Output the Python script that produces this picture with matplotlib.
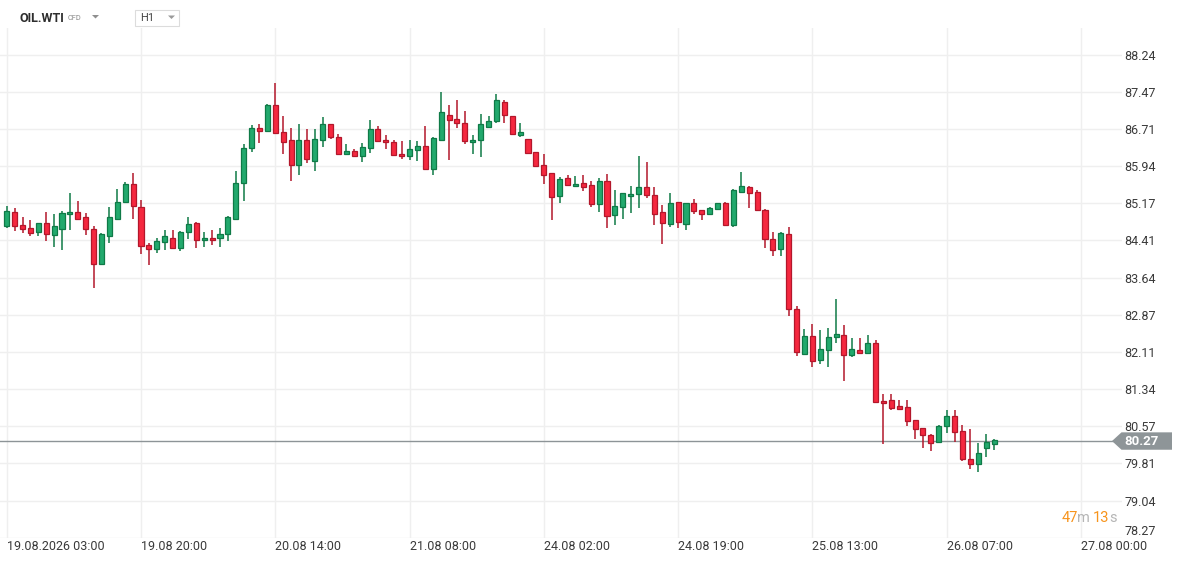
import numpy as np
import matplotlib
matplotlib.use('Agg')
import matplotlib.pyplot as plt
from matplotlib.patches import Polygon, Rectangle
from matplotlib.transforms import IdentityTransform

plt.rcParams['font.family'] = ['Roboto', 'DejaVu Sans']

# OIL.WTI H1 candles
opens = [84.71, 84.99, 84.72, 84.66, 84.58, 84.76, 84.52, 84.65, 84.95, 84.99,
         84.89, 84.64, 83.93, 84.49, 84.84, 85.20, 85.57, 85.09, 84.31, 84.23,
         84.37, 84.45, 84.25, 84.58, 84.77, 84.41, 84.45, 84.45, 84.54, 84.86,
         85.60, 86.32, 86.73, 86.67, 87.21, 86.65, 86.47, 85.97, 86.49, 86.04,
         86.47, 86.82, 86.55, 86.19, 86.26, 86.16, 86.32, 86.71, 86.49, 86.43,
         86.20, 86.16, 86.28, 86.35, 85.89, 86.49, 87.00, 86.92, 86.84, 86.43,
         86.47, 86.75, 86.88, 87.27, 86.98, 86.58, 86.51, 86.24, 85.97, 85.79,
         85.32, 85.69, 85.54, 85.60, 85.56, 85.15, 85.64, 84.93, 85.09, 85.32,
         85.36, 85.52, 85.34, 84.99, 84.74, 85.21, 84.74, 85.17, 85.03, 84.95,
         85.05, 85.17, 84.73, 85.40, 85.52, 85.40, 85.03, 84.43, 84.24, 84.54,
         83.00, 82.07, 82.44, 81.94, 82.15, 82.42, 82.46, 82.04, 82.15, 82.08,
         82.30, 81.10, 81.12, 81.00, 80.98, 80.71, 80.53, 80.39, 80.24, 80.59,
         80.78, 80.47, 79.89, 79.80, 80.12, 80.20]
highs = [85.12, 85.08, 84.89, 84.83, 84.77, 84.99, 84.95, 85.02, 85.39, 85.22,
         84.97, 84.70, 84.56, 85.10, 85.47, 85.61, 85.80, 85.24, 84.36, 84.45,
         84.62, 84.62, 84.60, 84.89, 84.79, 84.58, 84.62, 84.66, 84.91, 85.83,
         86.40, 86.78, 86.80, 87.22, 87.65, 86.97, 86.72, 86.80, 86.70, 86.70,
         86.95, 86.82, 86.61, 86.39, 86.30, 86.41, 86.89, 86.76, 86.58, 86.49,
         86.45, 86.47, 86.45, 86.76, 86.55, 87.46, 87.21, 87.30, 87.07, 86.59,
         87.02, 86.97, 87.42, 87.30, 86.98, 86.84, 86.51, 86.24, 86.19, 85.80,
         85.71, 85.75, 85.73, 85.75, 85.63, 85.69, 85.77, 85.45, 85.38, 85.54,
         86.14, 86.02, 85.52, 85.13, 85.38, 85.21, 85.19, 85.27, 85.03, 85.09,
         85.19, 85.21, 85.46, 85.81, 85.54, 85.44, 85.05, 84.58, 84.58, 84.69,
         83.06, 82.59, 82.69, 82.57, 82.61, 83.19, 82.67, 82.40, 82.39, 82.45,
         82.36, 81.24, 81.24, 81.12, 81.11, 80.71, 80.53, 80.41, 80.61, 80.90,
         80.92, 80.61, 80.51, 80.22, 80.41, 80.32]
lows = [84.67, 84.61, 84.57, 84.49, 84.49, 84.39, 84.28, 84.22, 84.63, 84.83,
        84.53, 83.42, 83.91, 84.36, 84.82, 85.19, 84.86, 84.12, 83.91, 84.14,
        84.22, 84.24, 84.20, 84.43, 84.26, 84.28, 84.32, 84.28, 84.39, 84.86,
        85.23, 86.23, 86.42, 86.65, 86.63, 86.19, 85.64, 85.76, 86.01, 85.84,
        86.34, 86.51, 86.17, 86.19, 86.16, 86.03, 86.21, 86.44, 86.30, 86.18,
        86.09, 86.07, 86.05, 85.89, 85.76, 86.49, 86.07, 86.73, 86.39, 86.19,
        86.12, 86.73, 86.84, 86.84, 86.58, 86.54, 86.19, 85.95, 85.58, 84.82,
        85.17, 85.56, 85.50, 85.43, 85.10, 85.00, 84.67, 84.73, 84.86, 84.98,
        85.08, 85.29, 84.73, 84.34, 84.69, 84.67, 84.63, 84.95, 84.82, 84.95,
        85.05, 84.72, 84.69, 85.40, 85.08, 85.02, 84.26, 84.08, 84.08, 82.84,
        82.02, 82.07, 81.80, 81.86, 81.80, 82.29, 81.51, 82.00, 82.06, 82.06,
        81.06, 80.21, 80.91, 80.94, 80.57, 80.31, 80.13, 80.07, 80.24, 80.43,
        80.26, 79.85, 79.69, 79.64, 79.95, 80.09]
closes = [85.02, 84.70, 84.64, 84.56, 84.76, 84.54, 84.70, 84.97, 84.99, 84.86,
          84.64, 83.92, 84.55, 84.89, 85.21, 85.57, 85.11, 84.30, 84.24, 84.40,
          84.49, 84.25, 84.58, 84.74, 84.41, 84.45, 84.41, 84.54, 84.90, 85.60,
          86.32, 86.73, 86.67, 87.21, 86.63, 86.43, 85.97, 86.49, 86.08, 86.51,
          86.82, 86.55, 86.19, 86.26, 86.16, 86.34, 86.71, 86.46, 86.43, 86.18,
          86.14, 86.30, 86.35, 85.89, 86.53, 87.05, 86.90, 86.84, 86.45, 86.49,
          86.80, 86.88, 87.30, 87.00, 86.61, 86.64, 86.22, 85.95, 85.76, 85.30,
          85.67, 85.56, 85.58, 85.51, 85.15, 85.64, 84.91, 85.11, 85.38, 85.36,
          85.52, 85.34, 84.95, 84.76, 85.19, 84.78, 85.17, 85.01, 84.95, 85.07,
          85.19, 84.72, 85.44, 85.54, 85.39, 85.03, 84.43, 84.21, 84.56, 83.00,
          82.10, 82.44, 81.92, 82.17, 82.42, 82.48, 82.04, 82.17, 82.08, 82.30,
          81.08, 81.06, 80.95, 80.94, 80.69, 80.51, 80.39, 80.22, 80.59, 80.78,
          80.45, 79.89, 79.80, 80.02, 80.24, 80.29]

last_price = 80.27

# candle index of each time label
x_tick_pos = [0, 17, 34, 51, 68, 85, 102, 119, 136]
x_tick_labels = ['19.08.2026 03:00', '19.08 20:00', '20.08 14:00', '21.08 08:00',
                 '24.08 02:00', '24.08 19:00', '25.08 13:00', '26.08 07:00',
                 '27.08 00:00']
y_ticks = [78.27, 79.04, 79.81, 80.57, 81.34, 82.11, 82.87, 83.64, 84.41,
           85.17, 85.94, 86.71, 87.47, 88.24]

W, H = 1184, 563
fig = plt.figure(figsize=(W / 100, H / 100), dpi=100)
ax = fig.add_axes([0, 1 - 538 / H, 1122 / W, (538 - 28) / H])

o = np.array(opens)
h = np.array(highs)
l = np.array(lows)
c = np.array(closes)
idx = np.arange(len(o))
up = c >= o

green_face, green_edge = '#22a96d', '#0f7a47'
red_face, red_edge = '#f5283f', '#b3172b'
face = np.where(up, green_face, red_face)
edge = np.where(up, green_edge, red_edge)

ax.vlines(idx, l, h, colors=edge, linewidth=1.1, zorder=2)
ax.bar(idx, np.maximum(np.abs(c - o), 0.02), bottom=np.minimum(o, c), width=0.64,
       color=face, edgecolor=edge, linewidth=0.9, zorder=3)

ax.axhline(last_price, color='#8d9497', linewidth=1, zorder=1.5)

ax.set_xlim(-0.85, 141.2)
ax.set_ylim(78.27, 88.79)
ax.set_xticks(x_tick_pos, x_tick_labels)
ax.set_yticks(y_ticks, [f'{v:.2f}' for v in y_ticks])
ax.yaxis.tick_right()
ax.tick_params(axis='x', length=0, pad=1.5, labelsize=9, labelcolor='#3a3a3a')
ax.tick_params(axis='y', length=0, pad=1.5, labelsize=9, labelcolor='#3a3a3a')
for lbl in ax.get_xticklabels():
    lbl.set_ha('left')
ylabels = ax.get_yticklabels()
ylabels[0].set_va('bottom')

ax.grid(True, color='#efefef', linewidth=1)
ax.set_axisbelow(True)
for s in ax.spines.values():
    s.set_visible(False)

ident = IdentityTransform()

# last price marker on the right
ypix = ax.transData.transform((0, last_price))[1]
fig.add_artist(Polygon([(1112, ypix), (1121.5, ypix + 8.7), (1172, ypix + 8.7),
                        (1172, ypix - 8.7), (1121.5, ypix - 8.7)], closed=True,
                       facecolor='#8e9598', edgecolor='none', transform=ident))
fig.text(1124, ypix, f'{last_price:.2f}', color='white', fontsize=9.5,
         fontweight='bold', va='center', ha='left', transform=ident)

# header
fig.text(20, H - 18.3, 'OIL.WTI', fontsize=9, fontweight='bold', color='#2d2d2d',
         va='center', ha='left', transform=ident)
fig.text(68, H - 18.5, 'CFD', fontsize=5.3, color='#8a8a8a', va='center', ha='left',
         transform=ident)
fig.add_artist(Polygon([(92, H - 15), (99, H - 15), (95.5, H - 18.5)], closed=True,
                       facecolor='#8f8f8f', edgecolor='none', transform=ident))
fig.add_artist(Rectangle((135, H - 25.5), 44, 15.5, facecolor='white',
                         edgecolor='#dcdcdc', linewidth=0.8, transform=ident))
fig.text(140, H - 18, 'H1', fontsize=8, color='#444444', va='center', ha='left',
         transform=ident)
fig.add_artist(Polygon([(168, H - 15.5), (175, H - 15.5), (171.5, H - 19)], closed=True,
                       facecolor='#9a9a9a', edgecolor='none', transform=ident))

# candle countdown
orange, grey = '#f7941d', '#b5b5b5'
for x0, s, col in [(1061.5, '47', orange), (1077, 'm', grey),
                   (1093, '13', orange), (1109, 's', grey)]:
    fig.text(x0, H - 518.3, s, fontsize=10.5, color=col, va='center', ha='left',
             transform=ident)

fig.savefig('out.png', dpi=100)
